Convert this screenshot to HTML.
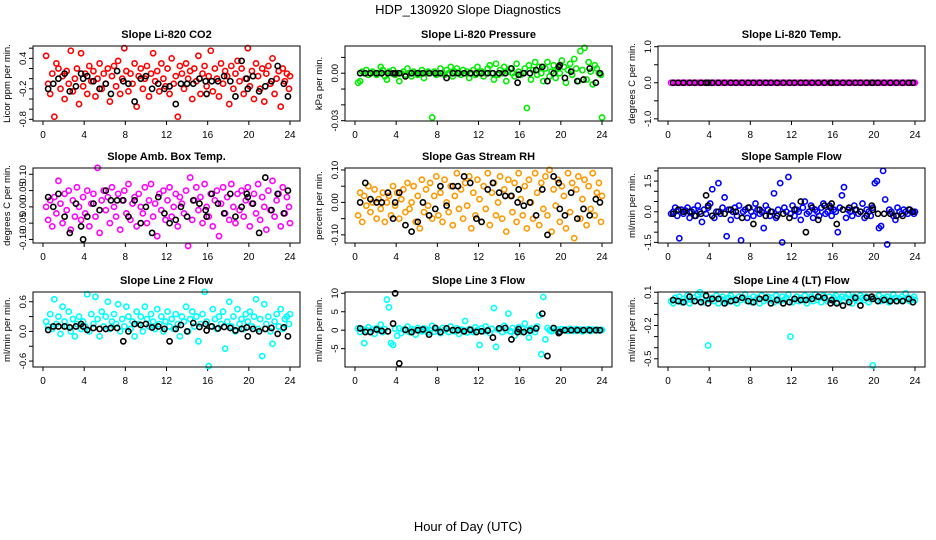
<!DOCTYPE html>
<html><head><meta charset="utf-8"><style>
body{margin:0;background:#fff}
svg{display:block;font-family:"Liberation Sans",sans-serif}
</style></head><body>
<svg id="chart" width="936" height="540" viewBox="0 0 936 540">
<text x="468" y="14" text-anchor="middle" font-size="13">HDP_130920  Slope Diagnostics</text>
<text x="468" y="531" text-anchor="middle" font-size="13">Hour of Day (UTC)</text>
</svg>
<script>
const hours=[0.3,0.5,0.7,0.9,1.1,1.3,1.5,1.7,1.9,2.1,2.3,2.5,2.7,2.9,3.1,3.3,3.5,3.7,3.9,4.1,4.3,4.5,4.7,4.9,5.1,5.3,5.5,5.7,5.9,6.1,6.3,6.5,6.7,6.9,7.1,7.3,7.5,7.7,7.9,8.1,8.3,8.5,8.7,8.9,9.1,9.3,9.5,9.7,9.9,10.1,10.3,10.5,10.7,10.9,11.1,11.3,11.5,11.7,11.9,12.1,12.3,12.5,12.7,12.9,13.1,13.3,13.5,13.7,13.9,14.1,14.3,14.5,14.7,14.9,15.1,15.3,15.5,15.7,15.9,16.1,16.3,16.5,16.7,16.9,17.1,17.3,17.5,17.7,17.9,18.1,18.3,18.5,18.7,18.9,19.1,19.3,19.5,19.7,19.9,20.1,20.3,20.5,20.7,20.9,21.1,21.3,21.5,21.7,21.9,22.1,22.3,22.5,22.7,22.9,23.1,23.3,23.5,23.7,23.9,24.0];
const blackHours=[0.5,1.0,1.5,2.1,2.6,3.2,3.7,3.9,4.3,4.9,5.5,6.1,6.6,7.2,7.8,8.3,8.9,9.5,10.0,10.6,11.2,11.8,12.3,12.9,13.4,14.0,14.6,15.2,15.8,15.9,16.4,17.0,17.6,18.2,18.7,19.3,19.8,19.9,20.4,21.0,21.6,22.2,22.8,23.4,23.8];
const xTicks=[0,4,8,12,16,20,24];

const co2=[0.45,-0.1,-0.3,0.1,-0.75,0.3,0.2,-0.2,0.05,-0.4,0.15,-0.1,0.55,-0.25,0.0,0.2,-0.5,0.5,-0.15,0.1,-0.3,0.25,-0.05,0.15,-0.35,0.0,0.3,-0.2,0.1,-0.1,0.2,-0.45,0.05,0.25,-0.15,0.35,-0.3,0.0,0.6,0.15,-0.25,0.1,-0.1,0.3,-0.55,0.05,0.2,-0.2,0.0,0.25,-0.35,0.1,0.5,-0.05,0.15,-0.25,0.3,0.0,-0.15,0.2,-0.3,0.4,-0.1,0.05,-0.75,0.25,0.1,-0.2,0.3,0.0,0.15,-0.4,0.2,-0.05,0.45,-0.3,0.1,0.25,-0.15,0.05,0.55,-0.25,0.2,0.0,-0.35,0.3,-0.1,0.15,0.05,-0.5,0.25,-0.2,0.1,0.35,-0.05,0.2,-0.3,0.0,0.6,-0.15,0.15,-0.4,0.3,0.05,-0.2,0.2,-0.45,0.1,0.25,-0.1,0.4,-0.3,0.0,0.15,-0.55,0.2,-0.05,0.1,-0.2,0.05];
const co2Black=[-0.2,-0.1,0.0,0.1,-0.25,-0.15,0.1,0.0,0.05,-0.05,-0.2,-0.1,-0.3,0.15,-0.05,-0.1,-0.45,0.0,0.05,-0.2,-0.1,-0.2,-0.15,-0.5,-0.1,-0.1,-0.1,0.0,-0.05,-0.3,-0.05,-0.05,0.05,-0.05,-0.35,0.35,0.0,-0.2,0.05,-0.25,-0.15,-0.05,0.25,-0.1,-0.35];
const pres=[-0.006,-0.005,0.001,0,0.002,-0.001,0,0.001,0.0,-0.001,0.0,0.004,0.002,-0.002,-0.004,0.001,0.0,0.002,-0.001,0.0,-0.005,0.0,0.001,-0.001,0.003,0.0,-0.002,0.001,0.0,-0.001,0.0,0.002,-0.003,0.0,0.001,0.0,-0.028,0.001,-0.001,0.0,0.003,0.0,-0.001,0.002,0.0,0.004,-0.002,0.001,0.003,0.0,-0.001,0.002,0.0,0.001,-0.003,0.0,0.002,-0.001,0.004,0.0,0.001,-0.002,0.0,0.003,0.005,0.0,-0.004,0.006,-0.001,0.002,0.0,0.004,-0.005,0.001,0.003,0.0,-0.002,0.006,0.001,-0.001,0.0,0.003,-0.022,0.005,-0.004,0.002,0.007,-0.001,0.004,0.0,-0.005,0.003,0.007,-0.002,0.001,0.005,-0.003,0.003,0.0,0.008,0.004,-0.006,0.002,0.006,-0.001,0.009,0.003,-0.005,0.014,0.002,0.016,-0.004,0.007,0.001,-0.007,0.005,0.003,0.0,-0.001,-0.028];
const presBlack=[0,0,0,0,0,0,0,0,0,-0.002,0,0,0,0,0,0,-0.003,0,0,0,0,0,0,0,0,0,0,0.003,-0.006,-0.001,0,0,0.002,0.004,-0.005,0,0.004,0.005,-0.003,0.001,-0.005,-0.004,0.003,-0.006,0];
const temp=[0,0,0,0,0,0,0,0,0,0,0,0,0,0,0,0,0,0,0,0,0,0,0,0,0,0,0,0,0,0,0,0,0,0,0,0,0,0,0,0,0,0,0,0,0,0,0,0,0,0,0,0,0,0,0,0,0,0,0,0,0,0,0,0,0,0,0,0,0,0,0,0,0,0,0,0,0,0,0,0,0,0,0,0,0,0,0,0,0,0,0,0,0,0,0,0,0,0,0,0,0,0,0,0,0,0,0,0,0,0,0,0,0,0,0,0,0,0,0,0];
const tempBlack=[0,0,0,0,0,0,0,0,0,0,0,0,0,0,0,0,0,0,0,0,0,0,0,0,0,0,0,0,0,0,0,0,0,0,0,0,0,0,0,0,0,0,0,0,0];
const amb=[0.0,-0.04,0.02,-0.06,0.03,-0.02,0.08,0.01,-0.05,0.04,-0.01,0.05,-0.07,0.02,-0.03,0.06,0.0,-0.04,0.03,-0.02,0.05,-0.06,0.01,0.04,-0.03,0.12,-0.08,0.02,0.05,-0.01,0.03,-0.05,0.06,0.0,-0.03,0.04,-0.07,0.02,0.05,-0.02,0.07,-0.04,0.01,0.03,-0.06,0.04,0.0,-0.02,0.06,-0.05,0.02,0.07,-0.03,0.01,-0.09,0.04,-0.01,0.05,-0.04,0.02,0.06,-0.03,0.0,0.04,-0.06,0.03,0.01,-0.02,0.05,-0.12,0.09,-0.04,0.02,0.06,-0.01,0.03,-0.05,0.07,0.0,-0.03,0.04,-0.06,0.02,0.05,-0.09,0.01,0.06,-0.02,0.03,-0.04,0.07,0.0,-0.05,0.04,-0.01,0.05,-0.03,0.02,0.06,-0.06,0.01,0.04,-0.02,0.07,-0.04,0.03,0.0,-0.07,0.05,-0.01,0.08,-0.03,0.02,0.04,-0.06,0.06,-0.02,0.03,0.0,-0.05];
const ambBlack=[0.03,0.0,0.04,-0.03,-0.08,0.01,-0.06,-0.1,-0.03,0.01,-0.01,0.05,0.02,0.02,0.02,-0.03,0.02,-0.05,0.0,-0.08,0.03,-0.02,-0.05,-0.04,0.0,-0.03,0.02,0.01,-0.01,-0.03,0.04,0.01,-0.02,0.04,-0.03,0.0,0.04,0.03,0.01,-0.08,0.09,-0.01,0.04,-0.02,0.05];
const rh=[-0.04,0.03,-0.06,0.02,-0.01,0.05,-0.03,0.0,0.04,-0.05,0.01,-0.02,0.03,-0.06,0.0,0.02,-0.04,0.05,-0.01,0.03,-0.05,0.01,0.04,-0.03,0.06,-0.02,0.0,0.05,-0.06,0.02,-0.08,0.07,-0.03,0.04,-0.01,0.06,-0.05,0.02,0.08,-0.04,0.03,-0.06,0.07,0.0,-0.03,0.05,-0.07,0.02,0.09,-0.02,0.04,-0.05,0.06,-0.01,0.08,-0.08,0.03,-0.04,0.07,0.01,-0.06,0.05,-0.02,0.09,-0.07,0.03,0.06,-0.04,0.0,0.08,-0.05,0.04,-0.09,0.07,0.02,-0.03,0.06,-0.06,0.09,0.01,-0.04,0.05,-0.08,0.07,0.0,-0.05,0.09,0.03,-0.07,0.06,-0.02,0.08,-0.04,0.1,-0.09,0.04,-0.01,0.07,-0.06,0.05,0.02,-0.08,0.09,-0.03,0.06,-0.11,0.04,0.08,-0.05,0.01,0.07,-0.07,0.05,-0.02,0.09,-0.04,0.03,0.06,-0.06,0.02];
const rhBlack=[0.0,0.06,0.01,0.0,0.0,0.03,-0.05,0.0,0.03,-0.07,-0.09,-0.06,0.0,-0.04,-0.02,0.05,-0.01,0.05,0.05,0.08,0.06,-0.05,-0.06,0.04,0.06,0.03,0.02,0.02,0.0,0.04,-0.01,0.0,-0.04,0.04,-0.1,0.08,0.06,-0.02,-0.04,0.03,-0.05,-0.02,-0.04,0.01,0.0];
const flow=[-0.1,0.0,0.2,-0.2,-1.3,0.1,-0.1,0.05,0.2,-0.3,0.0,0.1,-0.2,0.3,0.0,-0.5,0.1,-0.1,0.2,0.4,1.1,-0.3,0.0,1.4,-0.1,0.2,0.7,-1.2,0.1,-0.4,0.0,0.2,-0.2,0.3,-1.4,0.0,0.1,-0.3,0.2,0.0,-0.2,0.4,0.1,-0.1,0.0,-0.8,0.3,0.1,-0.2,0.0,0.9,-0.3,0.1,1.4,-1.5,0.2,0.0,1.7,-0.1,0.3,-0.2,0.1,0.0,-0.4,0.2,0.5,-0.1,0.0,0.3,-0.3,0.1,0.0,-0.2,0.2,0.4,-0.1,0.0,0.3,-0.2,0.1,0.0,-1.0,0.2,0.8,1.2,-0.3,0.1,0.0,-0.2,0.3,0.1,-0.1,0.0,0.4,-0.3,0.1,0.0,-0.2,0.2,1.4,1.5,-0.8,-0.7,2.0,0.6,-1.6,0.1,0.0,-0.2,-0.4,0.2,0.0,-0.1,0.1,0.0,-0.1,0.1,0.0,-0.1,0.0];
const flowBlack=[-0.1,0.1,0.0,0.0,-0.2,-0.1,0.8,0.3,-0.2,0.0,-0.1,0.1,0.0,-0.3,0.2,-0.6,0.1,-0.2,0.0,-0.2,-0.1,-0.3,0.1,0.5,-1.0,0.2,-0.4,0.3,0.2,0.4,-0.6,0.1,0.2,0.1,0.0,-0.2,0.3,0.1,-0.1,-0.1,-0.1,-0.2,-0.2,0.1,0.0];
const line2=[0.2,0.1,0.35,0.05,0.65,0.15,0.3,-0.05,0.5,0.2,0.1,0.4,0.0,0.25,-0.1,0.15,0.3,0.05,0.2,0.1,0.75,0.0,0.35,0.15,0.7,0.25,-0.1,0.4,0.1,0.3,0.6,0.05,0.2,0.35,0.15,0.55,0.0,0.25,0.1,0.5,0.3,0.05,0.2,-0.1,0.4,0.15,0.3,0.0,0.5,0.25,0.1,0.35,0.2,0.05,0.45,0.15,0.3,0.0,0.2,0.4,0.1,0.25,0.05,0.35,0.15,-0.1,0.3,0.2,0.5,0.0,0.25,0.4,0.1,0.3,-0.2,0.15,0.35,0.8,0.2,-0.7,0.1,0.45,0.25,0.05,0.3,0.15,0.4,-0.35,0.2,0.6,0.1,0.3,0.0,0.45,0.15,0.25,0.05,0.35,0.2,0.4,0.1,0.3,0.65,0.05,0.25,-0.5,0.55,0.15,0.3,0.0,-0.25,0.2,0.35,0.1,0.45,0.05,0.25,0.3,0.15,0.35];
const line2Black=[0.03,0.1,0.1,0.1,0.08,0.1,0.15,0.1,0.03,0.07,0.05,0.05,0.07,0.07,-0.2,0.0,0.15,0.13,0.15,0.08,0.1,0.05,-0.2,0.05,0.13,0.0,0.17,0.09,0.15,0.02,0.1,0.06,0.09,0.07,0.02,0.05,0.08,-0.1,0.05,0.0,0.05,0.07,-0.05,0.08,-0.1];
const line3=[0.5,-0.5,0.3,-3.5,0.0,0.8,-0.3,0.2,-1.0,0.5,0.0,1.5,-0.5,0.3,8.3,6.2,-3.5,-4.0,0.4,-1.5,0.5,-0.8,0.2,0.0,1.0,-0.5,0.3,0.0,-1.2,0.6,0.0,-0.3,0.5,0.2,-0.6,0.0,1.2,-0.4,0.3,0.0,-0.8,0.6,0.0,0.3,-0.5,1.0,0.0,-0.3,0.5,-1.0,0.2,0.0,2.5,-0.6,0.3,0.0,-0.5,0.8,0.0,-4.0,0.5,-0.3,1.0,0.0,-0.8,0.4,6.0,-4.5,0.2,0.5,-0.5,1.2,0.0,4.5,-0.3,0.6,-1.5,0.0,0.8,-0.5,0.3,1.8,0.0,-2.0,0.5,0.2,-0.5,1.0,4.0,-6.5,9.0,-2.5,0.6,0.0,-0.3,0.4,0.0,0.2,-0.3,0.3,0.0,0.2,-0.2,0.4,0.0,-0.2,0.3,0.0,0.2,-0.3,0.1,0.0,0.3,-0.2,0.1,0.0,0.2,-0.1,0.0,0.1];
const line3Black=[0.5,-0.5,-0.5,0.2,-0.2,-0.3,1.8,10.0,-9.0,0.1,-0.5,0.0,0.2,-1.2,0.6,-0.5,0.5,0.0,0.0,-0.3,0.1,-0.5,-0.3,-0.1,-2.0,0.5,0.6,-2.5,-0.5,0.3,-0.5,-0.1,0.5,4.5,-7.0,0.6,-0.8,-0.5,0.0,0.0,0.0,0.0,0.0,0.0,0.0];
const line4=[0.02,0.0,0.05,0.03,0.06,0.01,0.04,0.02,0.07,0.0,0.03,0.05,0.02,0.08,0.1,0.04,0.01,0.06,-0.38,0.03,0.05,0.02,0.07,0.0,0.04,0.06,0.03,0.01,0.05,0.07,0.02,0.04,0.0,0.06,0.03,0.05,0.08,0.02,0.04,0.01,0.06,0.03,0.05,0.0,0.07,0.02,0.04,0.06,0.03,0.05,0.01,0.07,0.04,0.02,0.06,0.03,0.05,0.08,-0.3,0.01,0.04,0.06,0.02,0.05,0.03,0.07,0.0,0.04,0.06,0.02,0.08,0.03,0.05,0.01,0.07,0.04,0.02,0.06,0.03,0.05,0.07,0.01,0.04,0.06,0.02,0.05,0.08,0.03,0.0,0.06,0.04,0.02,0.07,0.05,0.03,0.06,0.01,0.04,-0.56,0.05,0.03,0.07,0.02,0.05,0.04,0.06,0.01,0.03,0.08,0.05,0.02,0.04,0.06,0.03,0.09,0.05,0.02,0.04,0.06,0.03];
const line4Black=[0.03,0.02,0.01,0.06,0.02,0.01,0.07,0.0,0.04,0.04,0.0,0.02,0.03,0.05,0.02,0.01,0.04,0.05,0.0,0.03,0.0,0.01,0.04,0.03,0.03,0.04,0.06,0.05,0.0,0.03,0.0,-0.02,0.01,0.05,-0.02,0.05,0.06,0.04,0.02,0.03,0.02,0.02,0.02,0.04,0.01];

const panels=[
 {name:'co2',title:'Slope Li-820 CO2',ylab:'Licor ppm per min.',col:0,row:0,ymin:-0.833,ymax:0.643,ticks:[-0.8,-0.6,-0.4,-0.2,0,0.2,0.4,0.6],labels:{'-0.8':'-0.8','-0.2':'-0.2','0.4':'0.4'},c:'#ff0000',d:co2,b:co2Black},
 {name:'pressure',title:'Slope Li-820 Pressure',ylab:'kPa per min.',col:1,row:0,ymin:-0.0302,ymax:0.0172,ticks:[-0.03,-0.02,-0.01,0,0.01],labels:{'-0.03':'-0.03','0':'0.00'},c:'#00ee00',d:pres,b:presBlack},
 {name:'temp',title:'Slope Li-820 Temp.',ylab:'degrees C per min.',col:2,row:0,ymin:-1.06,ymax:1.02,ticks:[-1,-0.5,0,0.5,1],labels:{'-1':'-1.0','0':'0.0','1':'1.0'},c:'#ff00ff',d:temp,b:tempBlack},
 {name:'amb-box-temp',title:'Slope Amb. Box Temp.',ylab:'degrees C per min.',col:0,row:1,ymin:-0.111,ymax:0.1194,ticks:[-0.1,-0.05,0,0.05,0.1],labels:{'-0.1':'-0.10','-0.05':'-0.05','0':'0.00','0.05':'0.05','0.1':'0.10'},c:'#ff00ff',d:amb,b:ambBlack},
 {name:'gas-stream-rh',title:'Slope Gas Stream RH',ylab:'percent per min.',col:1,row:1,ymin:-0.125,ymax:0.106,ticks:[-0.1,-0.05,0,0.05,0.1],labels:{'-0.1':'-0.10','0':'0.00','0.1':'0.10'},c:'#ff9900',d:rh,b:rhBlack},
 {name:'sample-flow',title:'Slope Sample Flow',ylab:'ml/min per min.',col:2,row:1,ymin:-1.53,ymax:2.14,ticks:[-1.5,-1,-0.5,0,0.5,1,1.5,2],labels:{'-1.5':'-1.5','0':'0.0','1.5':'1.5'},c:'#0000ff',d:flow,b:flowBlack},
 {name:'line2-flow',title:'Slope Line 2 Flow',ylab:'ml/min per min.',col:0,row:2,ymin:-0.72,ymax:0.797,ticks:[-0.6,-0.3,0,0.3,0.6],labels:{'-0.6':'-0.6','0':'0.0','0.6':'0.6'},c:'#00ffff',d:line2,b:line2Black},
 {name:'line3-flow',title:'Slope Line 3 Flow',ylab:'ml/min per min.',col:1,row:2,ymin:-9.97,ymax:10.35,ticks:[-5,0,5,10],labels:{'-5':'-5','0':'0','5':'5','10':'10'},c:'#00ffff',d:line3,b:line3Black},
 {name:'line4-flow',title:'Slope Line 4 (LT) Flow',ylab:'ml/min per min.',col:2,row:2,ymin:-0.574,ymax:0.102,ticks:[-0.5,-0.4,-0.3,-0.2,-0.1,0,0.1],labels:{'-0.5':'-0.5','-0.2':'-0.2','0.1':'0.1'},c:'#00ffff',d:line4,b:line4Black}
];
const colL=[33,345,658], rowT=[46,168,292], W=267, H=75;
const NS='http://www.w3.org/2000/svg';
const svg=document.getElementById('chart');
function mk(tag,attrs,parent){const e=document.createElementNS(NS,tag);for(const k in attrs)e.setAttribute(k,attrs[k]);(parent||svg).appendChild(e);return e;}
panels.forEach(p=>{
 const L=colL[p.col],T=rowT[p.row],B=T+H;
 const xs=h=>L+10+h/24*247;
 const ys=v=>B-(v-p.ymin)/(p.ymax-p.ymin)*H;
 const g=mk('g',{});
 
 
 const t=mk('text',{x:L+W/2,y:T-8,'text-anchor':'middle','font-size':11,'font-weight':'bold'},g);t.textContent=p.title;
 
 
 const yl=mk('text',{x:0,y:0,'text-anchor':'middle','font-size':9.5,transform:`translate(${L-23},${T+H/2}) rotate(-90)`},g);yl.textContent=p.ylab;
 
 
 p.ticks.forEach(v=>{
  const y=ys(v);
  const tk=mk('line',{x1:L-4,x2:L,y1:y,y2:y,stroke:'#000','stroke-width':1},g);
  
  
  const lab=p.labels[String(v)];
  if(lab){const tx=mk('text',{x:0,y:0,'text-anchor':'middle','font-size':9.5,transform:`translate(${L-7},${y}) rotate(-90)`},g);tx.textContent=lab;
   
   }
 });
 xTicks.forEach(h=>{
  const x=xs(h);
  const tk=mk('line',{x1:x,x2:x,y1:B,y2:B+4,stroke:'#000','stroke-width':1},g);
  
  
  const tx=mk('text',{x:x,y:B+17,'text-anchor':'middle','font-size':10},g);tx.textContent=h;
  
  
 });
 p.d.forEach((v,i)=>{
  const c=mk('circle',{cx:xs(hours[i]),cy:ys(v),r:2.6,fill:'none',stroke:p.c,'stroke-width':1.6},g);
  
  
 });
 p.b.forEach((v,i)=>{
  const c=mk('circle',{cx:xs(blackHours[i]),cy:ys(v),r:2.6,fill:'none',stroke:'#000','stroke-width':1.6},g);
  
  
 });
 const box=mk('rect',{x:L,y:T,width:W,height:H,fill:'none',stroke:'#000','stroke-width':1},g);
 
 
});
</script>
</body></html>
